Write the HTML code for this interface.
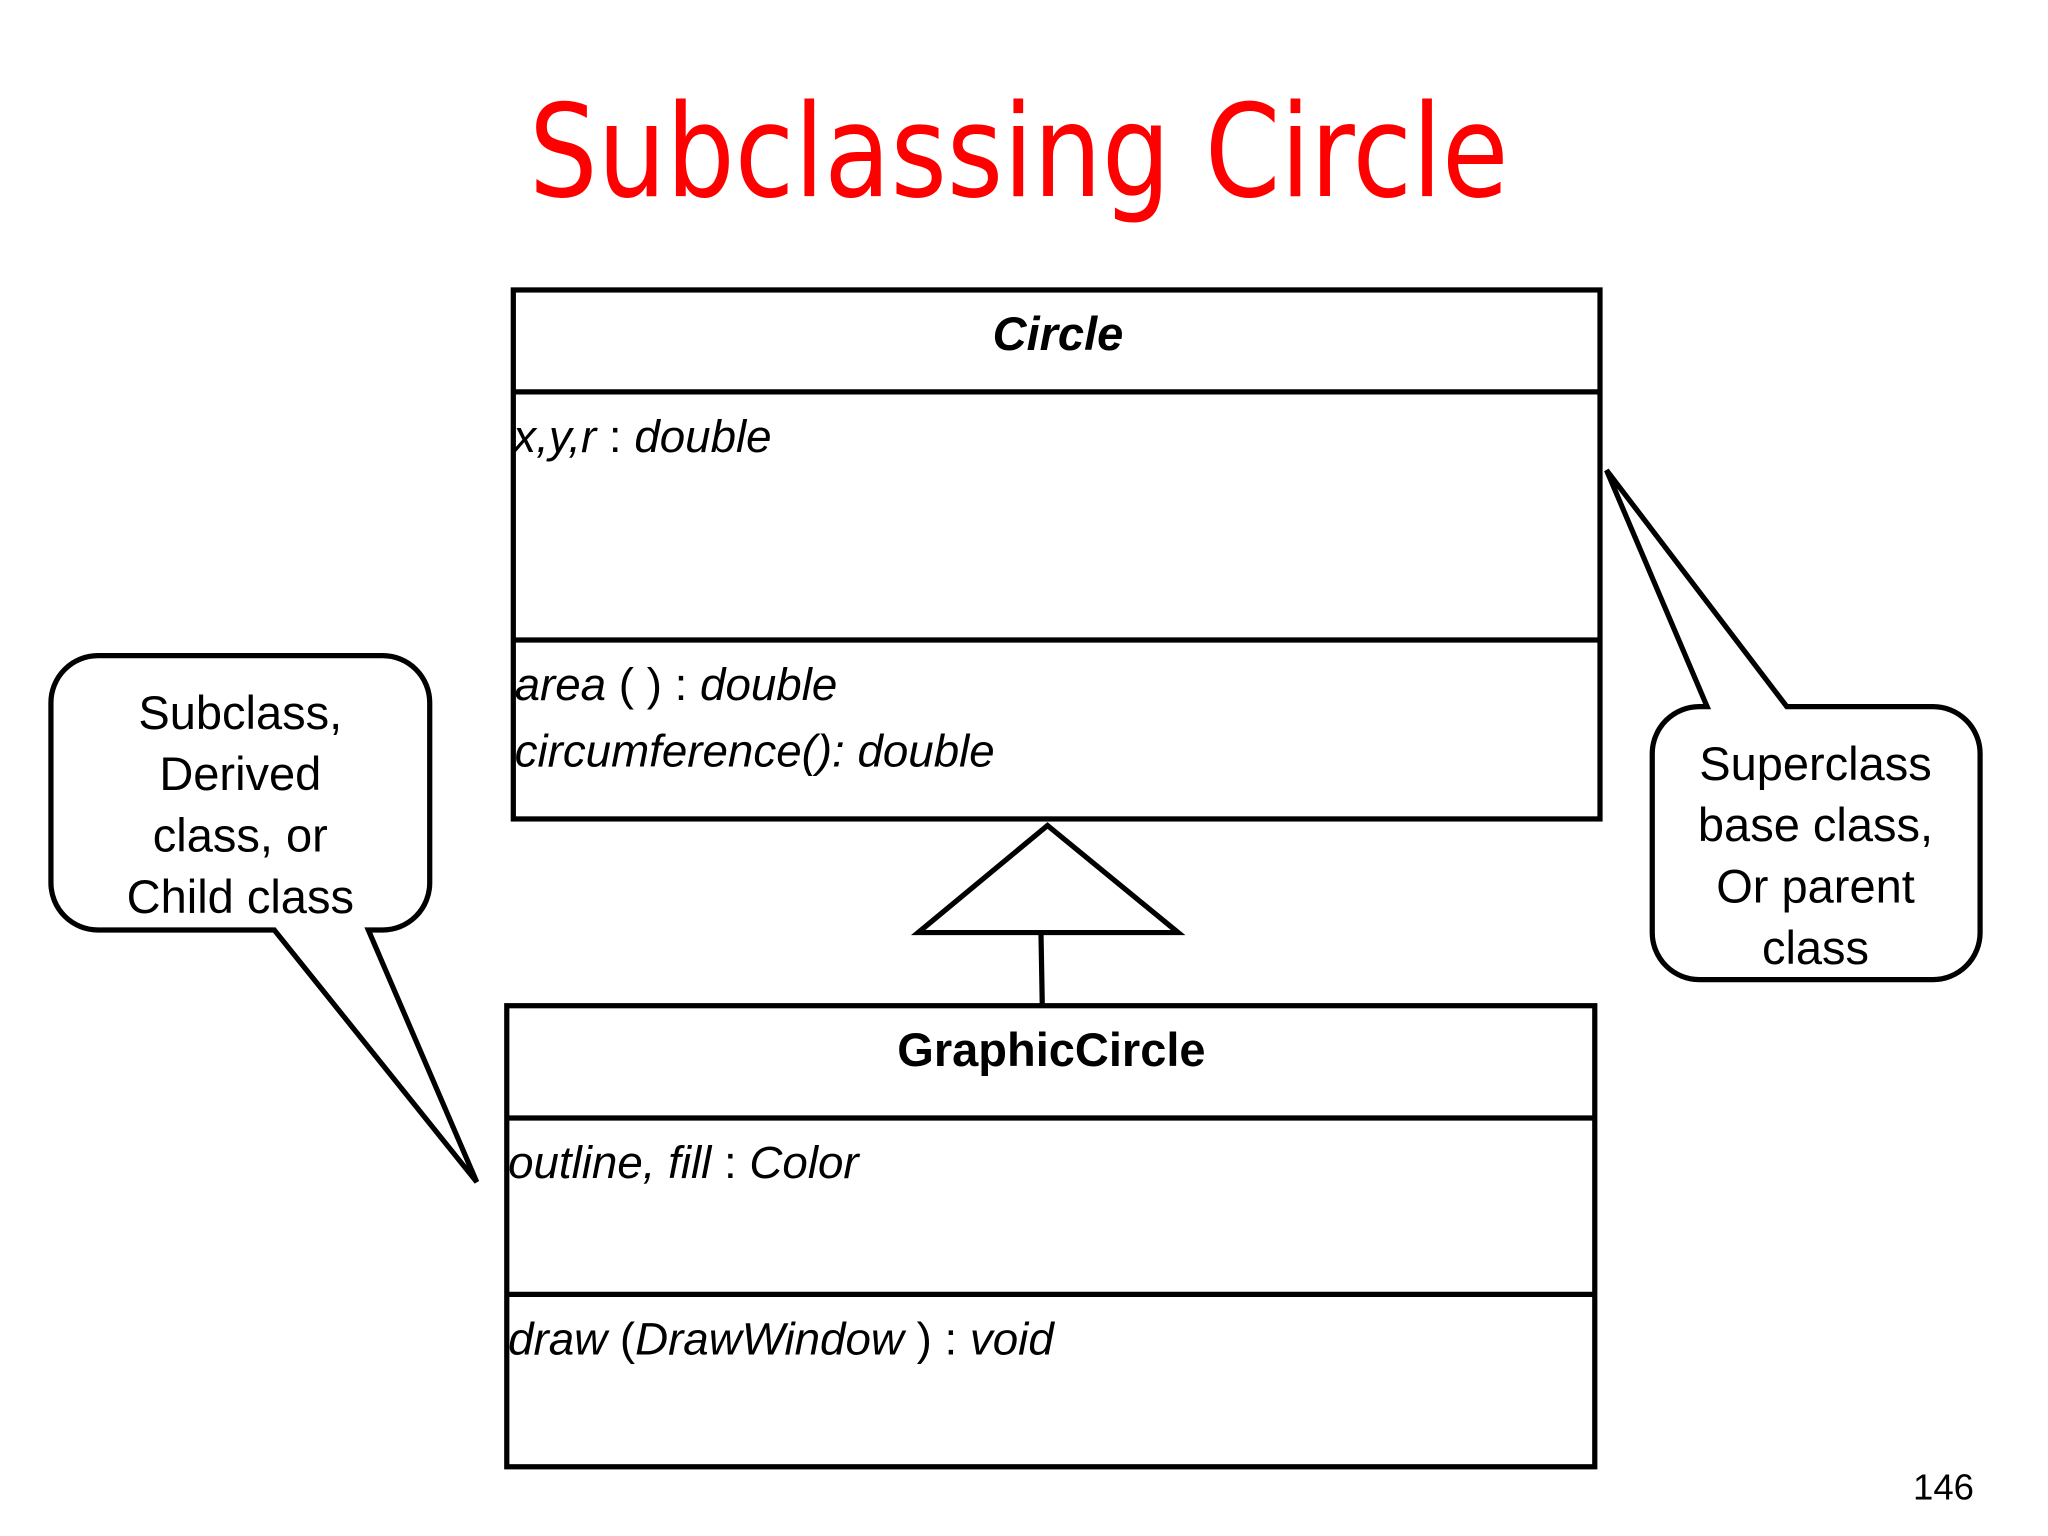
<!DOCTYPE html>
<html><head><meta charset="utf-8"><style>html,body{margin:0;padding:0;background:#fff}svg{display:block}</style></head>
<body>
<svg width="2048" height="1536" viewBox="0 0 1568 1176" preserveAspectRatio="none" xmlns="http://www.w3.org/2000/svg">
<rect width="1568" height="1176" fill="#fff"/>
<text x="780" y="150" text-anchor="middle" font-family="DejaVu Sans, Liberation Sans, sans-serif" font-size="98" fill="#ff0000" textLength="750" lengthAdjust="spacingAndGlyphs">Subclassing Circle</text>
<g fill="none" stroke="#000" stroke-width="4">
<rect x="393" y="222" width="832" height="405"/>
<line x1="393" y1="300" x2="1225" y2="300"/>
<line x1="393" y1="490" x2="1225" y2="490"/>
<polygon points="802,632 703,714 902,714"/>
<line x1="797" y1="714" x2="798" y2="770"/>
<rect x="388" y="770" width="833" height="353"/>
<line x1="388" y1="856" x2="1221" y2="856"/>
<line x1="388" y1="991" x2="1221" y2="991"/>
<path d="M75,502 H293 A36,36 0 0 1 329,538 V676 A36,36 0 0 1 293,712 H282 L365,905 L210,712 H75 A36,36 0 0 1 39,676 V538 A36,36 0 0 1 75,502 Z" fill="#fff"/>
<path d="M1301,541 H1307 L1230,360 L1368,541 H1480 A36,36 0 0 1 1516,577 V714 A36,36 0 0 1 1480,750 H1301 A36,36 0 0 1 1265,714 V577 A36,36 0 0 1 1301,541 Z" fill="#fff"/>
</g>
<g font-family="Liberation Sans, sans-serif" fill="#000">
<text x="810" y="268" text-anchor="middle" font-size="36" font-weight="bold" font-style="italic">Circle</text>
<text x="393" y="346" font-size="35" font-style="italic">x,y,r <tspan font-style="normal"> :</tspan> double</text>
<text x="394" y="536" font-size="35" font-style="italic">area <tspan font-style="normal">( ) :</tspan> double</text>
<text x="394" y="587" font-size="35" font-style="italic">circumference(): double</text>
<text x="805" y="816" text-anchor="middle" font-size="36" font-weight="bold">GraphicCircle</text>
<text x="389" y="902" font-size="35" font-style="italic">outline, fill <tspan font-style="normal"> :</tspan> Color</text>
<text x="389" y="1037" font-size="35" font-style="italic">draw <tspan font-style="normal">(</tspan>DrawWindow <tspan font-style="normal">) :</tspan> void</text>
<g font-size="36" text-anchor="middle">
<text x="184" y="558">Subclass,</text>
<text x="184" y="605">Derived</text>
<text x="184" y="652">class, or</text>
<text x="184" y="699">Child class</text>
<text x="1390" y="597">Superclass</text>
<text x="1390" y="644">base class,</text>
<text x="1390" y="691">Or parent</text>
<text x="1390" y="738">class</text>
</g>
<text x="1488" y="1148" text-anchor="middle" font-size="28">146</text>
</g>
</svg>
</body></html>
